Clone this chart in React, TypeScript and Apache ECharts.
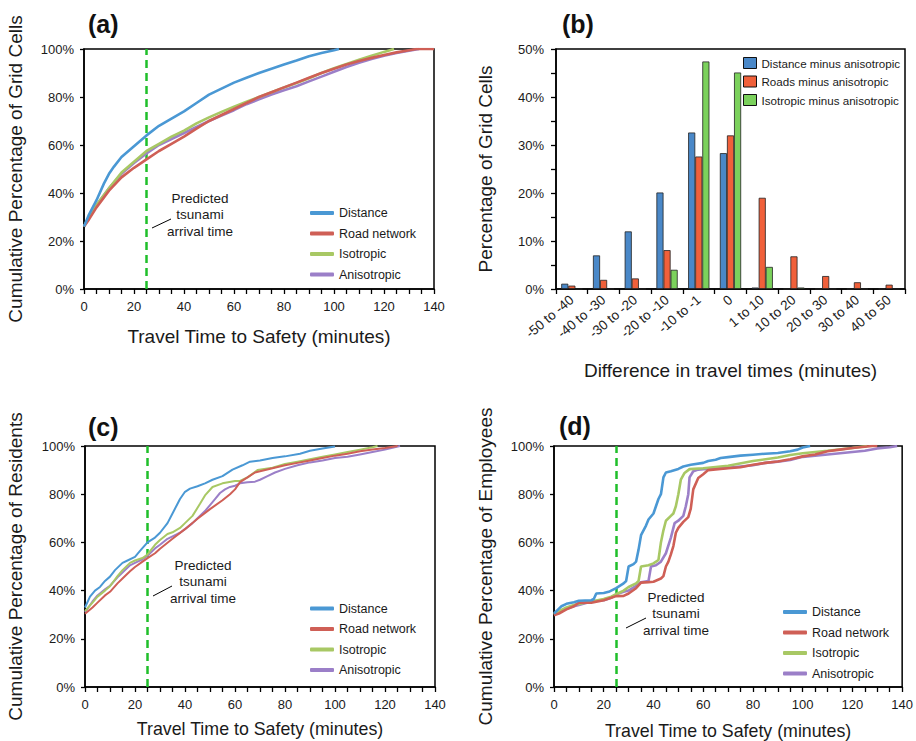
import React, { useEffect, useRef } from "react";
import * as echarts from "echarts";

const FONT = '"Liberation Sans", Arial, Helvetica, sans-serif';
const TXT = "#1a1a1a";

const SERIES_NAMES = ["Distance", "Road network", "Isotropic", "Anisotropic"];
const LINE_COLORS = ["#4a98d4", "#cf5f56", "#a8c864", "#9b7fc8"];

// Panel (a): cumulative % of grid cells vs travel time (min)
const A_DISTANCE = [[0,26],[2,31],[5,37],[8,44],[10,48],[12,51],[15,55],[20,59.5],[25,64],[30,68],[35,71],[40,74],[45,77.5],[50,81],[55,83.5],[60,86],[65,88],[70,90],[75,91.8],[80,93.5],[85,95.2],[90,97],[95,98.3],[100,99.5],[102,100]];
const A_ROAD = [[0,26],[2,29],[5,34],[10,41],[15,46.5],[20,50.5],[25,54],[30,57.5],[35,60.5],[40,63.5],[45,66.8],[50,70],[55,72.5],[60,75],[65,77.5],[70,80],[75,82],[80,84],[85,86],[90,88],[95,90],[100,91.8],[105,93.5],[110,95],[115,96.3],[120,97.5],[125,98.6],[130,99.5],[133,100],[140,100]];
const A_ISO = [[0,26],[2,30],[5,35],[10,42],[15,48.5],[20,53],[25,57.5],[30,60.5],[35,63.5],[40,66],[45,69],[50,71.5],[55,73.8],[60,76],[65,78],[70,80],[75,82],[80,84],[85,85.8],[90,87.8],[95,90],[100,92],[105,93.8],[110,95.5],[115,97.2],[120,98.8],[124,100]];
const A_ANISO = [[0,26],[2,30],[5,35],[10,42],[15,48],[20,52.5],[25,56.5],[30,60],[35,62.5],[40,65],[45,67.5],[50,70],[55,72.3],[60,74.5],[65,77],[70,79],[75,81],[80,82.8],[85,84.5],[90,86.5],[95,88.5],[100,90.5],[105,92.5],[110,94.3],[115,95.8],[120,97.2],[125,98.3],[130,99.3],[134,100]];

// Panel (b): histogram of differences
const B_CATEGORIES = ["-50 to -40","-40 to -30","-30 to -20","-20 to -10","-10 to -1","0","1 to 10","10 to 20","20 to 30","30 to 40","40 to 50"];
const B_NAMES = ["Distance minus anisotropic","Roads minus anisotropic","Isotropic minus anisotropic"];
const B_COLORS = ["#4a88c8", "#f0603a", "#7bd15c"];
const B_DISTANCE = [1.1, 7.0, 12.0, 20.1, 32.6, 28.3, 0.3, 0, 0, 0, 0];
const B_ROADS = [0.7, 1.9, 2.2, 8.1, 27.6, 32.0, 19.0, 6.8, 2.7, 1.4, 0.9];
const B_ISO = [0, 0, 0, 4.0, 47.4, 45.1, 4.6, 0.3, 0, 0, 0];

// Panel (c): cumulative % of residents
const C_DISTANCE = [[0,33],[2,37.5],[4,40],[6,41.5],[8,44],[10,45.8],[12,48.5],[15,51.5],[17,52.5],[20,54],[22,56.5],[25,60],[28,62],[30,64],[33,68],[35,72],[38,78],[40,81],[42,82.3],[45,83.3],[48,84.5],[51,86],[55,87.5],[59,90.2],[63,92],[66,93.5],[70,94],[75,95],[80,95.7],[86,96.8],[90,98],[95,99],[100,99.8]];
const C_ROAD = [[0,30.4],[3,33],[5,35],[8,38],[10,39.5],[13,43],[15,45],[18,48],[20,49.8],[23,52],[25,53.5],[28,55.5],[30,57.4],[35,61.5],[40,65.5],[45,69.8],[50,73.8],[55,77.5],[58,80],[60,82],[62,85],[65,87],[68,89],[70,89.5],[75,90.8],[80,92],[85,93],[90,94],[95,95],[100,96],[105,96.8],[110,97.8],[115,98.5],[120,99.2],[125,100]];
const C_ISO = [[0,31.5],[3,35],[5,37.5],[8,40],[10,41.8],[13,46],[15,48.5],[18,51.5],[20,52.5],[23,53.5],[25,55],[28,59],[30,61],[33,63.5],[35,64.2],[38,66],[40,68],[43,71],[46,76],[48,79.5],[51,83],[55,84.5],[60,85.5],[62,85.5],[65,87],[69,90],[75,91],[80,92.5],[85,93.5],[90,94.5],[95,95.5],[100,96.5],[105,97.5],[110,98.5],[115,99.5],[117,100]];
const C_ANISO = [[0,31],[3,35.5],[5,38],[8,40.5],[10,42],[13,45.5],[15,47.5],[18,50.5],[20,51.5],[23,53],[25,54.5],[28,57.5],[30,59],[33,61.5],[35,62.5],[38,64],[40,65.5],[43,68],[45,70],[48,73],[50,75.5],[52,78],[54,80.5],[56,82],[58,83],[60,83.5],[62,84.5],[65,85],[68,85.2],[70,86],[73,87.5],[76,89],[80,90.5],[85,92],[90,93.2],[95,94],[100,95],[105,95.5],[110,96.5],[115,97.5],[120,98.5],[126,100]];

// Panel (d): cumulative % of employees
const D_DISTANCE = [[0,30.5],[2,32.5],[3,33.5],[5,34.5],[8,35.2],[10,35.8],[15,36],[16,36.5],[17,38.8],[20,39],[22,39.5],[25,41],[28,43],[29,44],[30,50],[32,51],[33,52],[34,57],[35,63],[37,67],[38,69.5],[40,72],[41,75],[42,78],[43,80],[44,87],[45,89],[47,89.5],[50,90.5],[52,91.5],[55,92.2],[60,93],[62,93.8],[65,94.3],[67,95],[70,95.4],[75,96],[80,96.4],[85,96.8],[90,97.1],[95,97.8],[98,98.5],[100,99.4],[103,100]];
const D_ROAD = [[0,29.8],[2,30.5],[5,32.2],[8,33.5],[10,35],[15,35],[20,36],[23,37],[25,37.7],[28,37.8],[30,38.8],[33,41],[35,43.3],[38,43.5],[40,43.7],[43,45],[44,46],[45,50],[46,52],[47,55],[48,58.5],[49,64],[50,66],[52,68.5],[54,70.5],[55,74],[56,82],[58,86.7],[60,88.3],[62,90],[65,90.3],[70,90.8],[75,91.2],[80,92.2],[85,93],[90,93.6],[95,94.5],[100,95.7],[105,96.5],[110,97.8],[115,98.5],[120,99.2],[128,100],[130,100]];
const D_ISO = [[0,30],[3,32],[5,33],[8,34],[10,34.5],[15,35.5],[20,36.5],[23,37.5],[25,38.5],[28,40],[30,41.5],[33,43],[34,44],[35,50],[38,50.5],[40,51.3],[42,52.7],[43,60],[44,65],[45,69],[47,71],[48,72],[49,75],[50,80],[51,86],[52.5,88.8],[54.5,90.4],[60,90.8],[70,91.8],[80,93.8],[90,95.2],[95,96.3],[100,97],[110,98],[120,99.2],[126,100]];
const D_ANISO = [[0,30],[3,31.5],[5,32.5],[8,33.5],[10,34],[15,35.5],[20,36],[23,37],[25,38.5],[28,39.5],[30,40],[33,42],[35,43.5],[38,44],[39,50],[41,50.5],[43,52],[45,55.5],[47,62],[48.5,68],[50,69],[52,71],[53,75],[54,80],[54.5,87],[56,89.5],[58,90.2],[60,90.4],[65,90.6],[70,91],[75,91.5],[80,92],[85,93],[90,93.5],[95,94.2],[100,95.5],[105,96],[110,96.5],[115,97],[120,97.5],[125,98],[130,99],[135,99.5],[138,100]];

const ARRIVAL_TIME = 25;
const PCT_TICKS = [0, 20, 40, 60, 80, 100];
const TIME_MAX = 140;

const GRIDS = [
  { left: 84, top: 49, width: 350, height: 240 },
  { left: 556, top: 49, width: 349, height: 240 },
  { left: 85, top: 446, width: 350, height: 241 },
  { left: 554, top: 446, width: 349, height: 241 },
];

const axisLineStyle = { lineStyle: { color: "#000", width: 1.5 } };
const tickStyle = { show: true, inside: false, length: 5, lineStyle: { color: "#000", width: 1.3 } };
const labelStyle = { color: TXT, fontSize: 13, fontFamily: FONT };
const nameStyle = (size: number) => ({ color: TXT, fontSize: size, fontFamily: FONT });

function timeXAxis(gridIndex: number, nameGap: number, nameSize: number) {
  return {
    type: "value", gridIndex, min: 0, max: TIME_MAX, interval: 20,
    name: "Travel Time to Safety (minutes)", nameLocation: "middle", nameGap,
    nameTextStyle: nameStyle(nameSize),
    axisLine: { show: true, onZero: false, ...axisLineStyle },
    axisTick: tickStyle,
    minorTick: { show: true, splitNumber: 4, length: 5, lineStyle: { color: "#000", width: 1.3 } },
    axisLabel: { ...labelStyle, margin: 11 },
    splitLine: { show: false },
    minorSplitLine: { show: false },
  };
}

function pctYAxis(gridIndex: number, name: string, nameGap: number) {
  return {
    type: "value", gridIndex, min: 0, max: 100, interval: 20,
    name, nameLocation: "middle", nameGap, nameTextStyle: nameStyle(19),
    axisLine: { show: true, ...axisLineStyle },
    axisTick: { ...tickStyle, length: 4 },
    axisLabel: { ...labelStyle, margin: 10, formatter: (v: number) => (PCT_TICKS.includes(v) ? v + "%" : "") },
    splitLine: { show: false },
  };
}

function lineSeries(idx: number, data: number[][][], width: number, withArrival: boolean) {
  return SERIES_NAMES.map((n, i) => {
    const s: any = {
      name: n, type: "line", xAxisIndex: idx, yAxisIndex: idx,
      data: data[i],
      showSymbol: false, symbol: "none",
      lineStyle: { color: LINE_COLORS[i], width },
      itemStyle: { color: LINE_COLORS[i] },
      z: 3 + (3 - i),
    };
    if (withArrival && i === 0) {
      s.markLine = {
        silent: true, symbol: "none", label: { show: false },
        lineStyle: { color: "#1fbf2a", width: 2.5, type: [8, 5] },
        data: [{ xAxis: ARRIVAL_TIME }],
        z: 2,
      };
    }
    return s;
  });
}

function lineLegend(left: number, top: number) {
  return {
    orient: "vertical", left, top, itemGap: 7.5, itemWidth: 24, itemHeight: 4,
    icon: "roundRect",
    textStyle: { color: TXT, fontSize: 12.5, fontFamily: FONT },
    data: SERIES_NAMES,
    selectedMode: false,
  };
}

function annotation(cx: number, y0: number, lx1: number, ly1: number, lx2: number, ly2: number) {
  const lines = ["Predicted", "tsunami", "arrival time"];
  const els: any[] = lines.map((t, i) => ({
    type: "text", x: cx, y: y0 + i * 16.5,
    style: { text: t, font: `13.5px ${FONT}`, fill: TXT, textAlign: "center", textVerticalAlign: "middle" },
  }));
  els.push({ type: "line", shape: { x1: lx1, y1: ly1, x2: lx2, y2: ly2 }, style: { stroke: "#000", lineWidth: 1 } });
  return els;
}

function title(t: string, x: number, y: number) {
  return {
    type: "text", x, y,
    style: { text: t, font: `bold 25px ${FONT}`, fill: "#111", textAlign: "left", textVerticalAlign: "middle" },
  };
}

export default function App() {
  const ref = useRef<HTMLDivElement>(null);
  useEffect(() => {
    if (!ref.current) return;
    const chart = echarts.init(ref.current, undefined, { renderer: "svg" });
    const option: any = {
      animation: false,
      backgroundColor: "#fff",
      grid: GRIDS.map((g) => ({ ...g, show: true, borderColor: "#000", borderWidth: 1.5, backgroundColor: "transparent", containLabel: false })),
      xAxis: [
        timeXAxis(0, 38, 19),
        {
          type: "category", gridIndex: 1, data: B_CATEGORIES,
          name: "Difference in travel times (minutes)", nameLocation: "middle", nameGap: 72,
          nameTextStyle: nameStyle(19),
          axisLine: { show: true, ...axisLineStyle },
          axisTick: { ...tickStyle, alignWithLabel: false, interval: 0 },
          axisLabel: { ...labelStyle, fontSize: 13.5, interval: 0, rotate: 40, margin: 9 },
          splitLine: { show: false },
        },
        timeXAxis(2, 33, 17.8),
        timeXAxis(3, 35, 17.8),
      ],
      yAxis: [
        pctYAxis(0, "Cumulative Percentage of Grid Cells", 59),
        {
          type: "value", gridIndex: 1, min: 0, max: 50, interval: 10,
          name: "Percentage of Grid Cells", nameLocation: "middle", nameGap: 61, nameTextStyle: nameStyle(19),
          axisLine: { show: true, ...axisLineStyle },
          axisTick: tickStyle,
          minorTick: { show: true, splitNumber: 2, length: 5, lineStyle: { color: "#000", width: 1.3 } },
          axisLabel: { ...labelStyle, margin: 12, formatter: "{value}%" },
          splitLine: { show: false },
          minorSplitLine: { show: false },
        },
        pctYAxis(2, "Cumulative Percentage of Residents", 60),
        pctYAxis(3, "Cumulative Percentage of Employees", 59),
      ],
      legend: [
        lineLegend(305, 201.5),
        {
          orient: "vertical", left: 738, top: 52, itemGap: 6.5, itemWidth: 13, itemHeight: 11,
          icon: "rect", selectedMode: false,
          itemStyle: { borderColor: "#111", borderWidth: 1 },
          textStyle: { color: TXT, fontSize: 11.6, fontFamily: FONT },
          data: B_NAMES,
        },
        lineLegend(305, 597),
        lineLegend(778, 600.5),
      ],
      series: [
        ...lineSeries(0, [A_DISTANCE, A_ROAD, A_ISO, A_ANISO], 2.6, true),
        ...[B_DISTANCE, B_ROADS, B_ISO].map((d, i) => ({
          name: B_NAMES[i], type: "bar", xAxisIndex: 1, yAxisIndex: 1, data: d,
          barGap: "0%", barCategoryGap: "33%",
          itemStyle: { color: B_COLORS[i], borderColor: "#222", borderWidth: 0.8 },
        })),
        ...lineSeries(2, [C_DISTANCE, C_ROAD, C_ISO, C_ANISO], 2, true),
        ...lineSeries(3, [D_DISTANCE, D_ROAD, D_ISO, D_ANISO], 2.6, true),
      ],
      graphic: [
        title("(a)", 88, 24),
        title("(b)", 562, 24),
        title("(c)", 88, 427),
        title("(d)", 559, 426),
        ...annotation(200, 198, 152, 228, 171, 219),
        ...annotation(203, 565, 153, 596, 172, 586),
        ...annotation(676, 597, 626, 628, 646, 618),
      ],
    };
    chart.setOption(option);
    return () => chart.dispose();
  }, []);
  return <div ref={ref} style={{ position: "fixed", left: 0, top: 0, width: 916, height: 741 }} />;
}
